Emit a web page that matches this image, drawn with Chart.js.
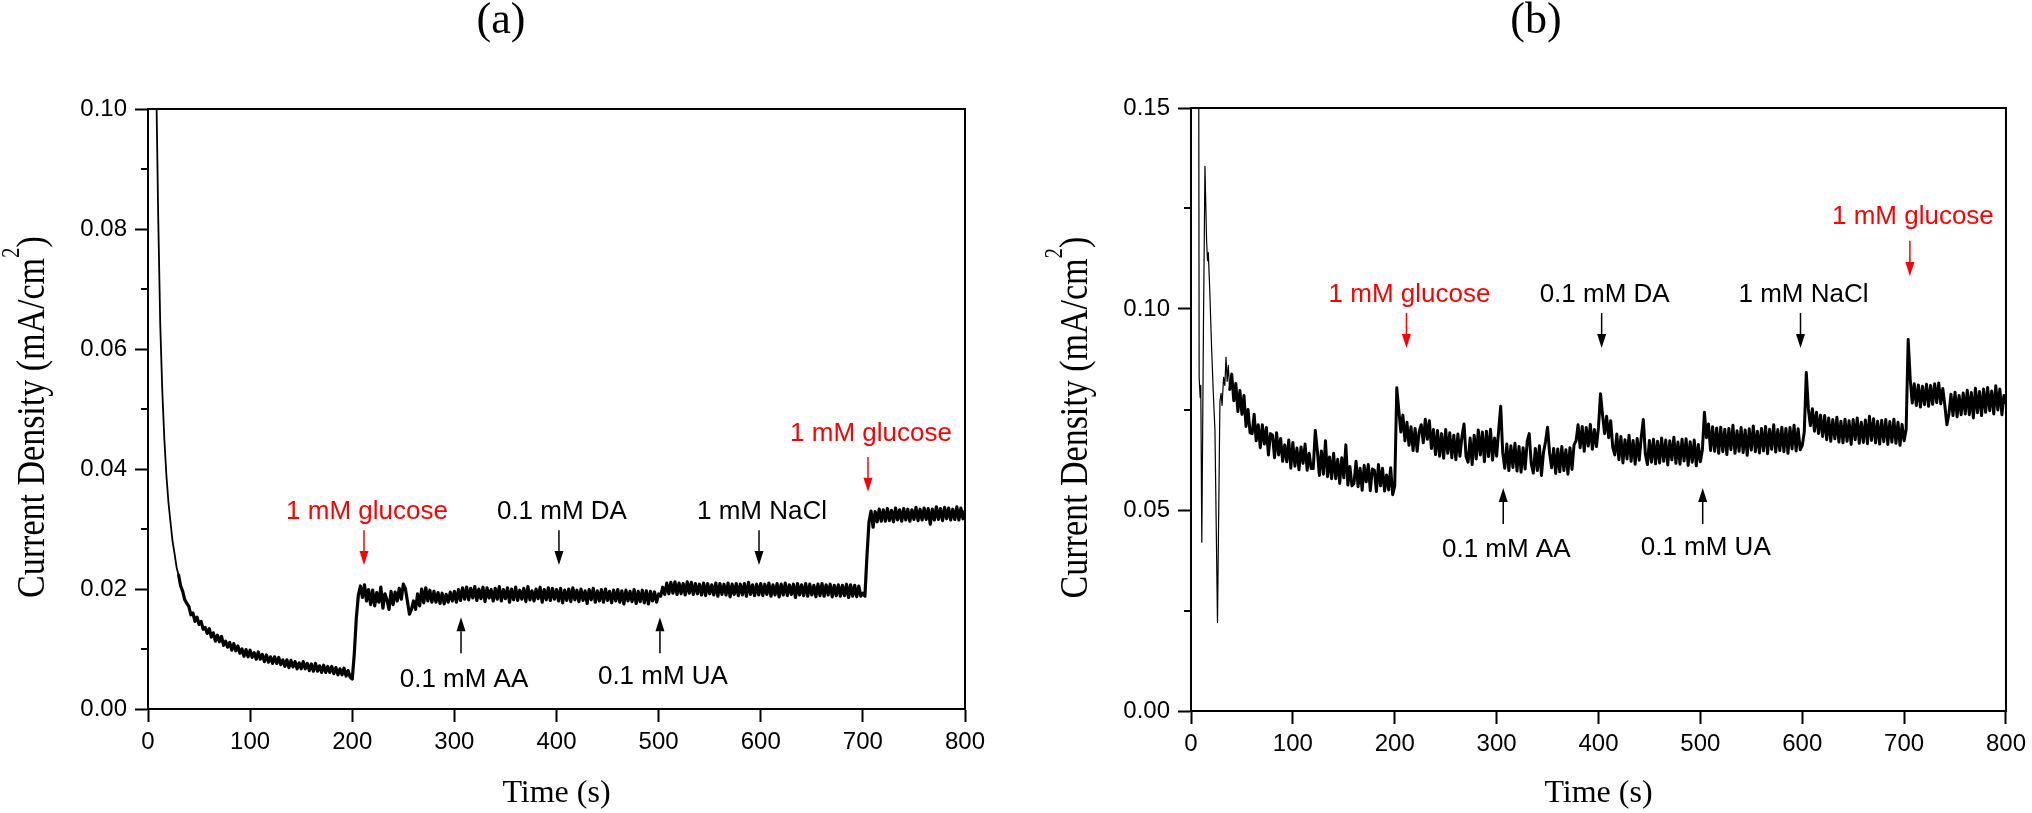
<!DOCTYPE html>
<html>
<head>
<meta charset="utf-8">
<title>Amperometric response</title>
<script src="https://cdn.jsdelivr.net/npm/chart.js@4.4.0/dist/chart.umd.min.js"></script>
<style>
  html, body { margin: 0; padding: 0; background: #fff; }
  #figure { position: relative; width: 2032px; height: 813px; overflow: hidden; }
  .panel { position: absolute; top: 0; width: 1016px; height: 813px; }
</style>
</head>
<body>
<div id="figure">
  <div class="panel" style="left:0"><canvas id="panelA" width="1016" height="813"></canvas></div>
  <div class="panel" style="left:1016px"><canvas id="panelB" width="1016" height="813"></canvas></div>
</div>
<script>
const sampleStep = 2;

// panel (a): t = 0 .. 800 s
const currentA = [
  0.50, 0.30, 0.20, 0.145, 0.105, 0.082, 0.064, 0.053, 0.045, 0.039,
  0.0345, 0.0312, 0.0280, 0.0259, 0.0236, 0.0223, 0.0205, 0.0196, 0.0182, 0.0176,
  0.0171, 0.0157, 0.0160, 0.0146, 0.0153, 0.0141, 0.0146, 0.0133, 0.0136, 0.0126,
  0.0134, 0.0120, 0.0127, 0.0113, 0.0123, 0.0112, 0.0121, 0.0106, 0.0113, 0.0103,
  0.0111, 0.0098, 0.0109, 0.0097, 0.0105, 0.0093, 0.0100, 0.0088, 0.0099, 0.0087,
  0.0098, 0.0086, 0.0094, 0.0083, 0.0095, 0.0083, 0.0091, 0.0079, 0.0090, 0.0078,
  0.0087, 0.0076, 0.0087, 0.0076, 0.0086, 0.0074, 0.0082, 0.0071, 0.0082, 0.0069,
  0.0081, 0.0070, 0.0079, 0.0067, 0.0077, 0.0067, 0.0079, 0.0067, 0.0076, 0.0064,
  0.0075, 0.0063, 0.0076, 0.0063, 0.0072, 0.0061, 0.0073, 0.0061, 0.0071, 0.0061,
  0.0071, 0.0059, 0.0069, 0.0057, 0.0067, 0.0057, 0.0068, 0.0055, 0.0064, 0.0053,
  0.0050, 0.0092, 0.0152, 0.0190, 0.0205, 0.0186, 0.0207, 0.0180, 0.0199, 0.0174,
  0.0198, 0.0172, 0.0194, 0.0178, 0.0203, 0.0168, 0.0192, 0.0182, 0.0166, 0.0196,
  0.0174, 0.0195, 0.0180, 0.0201, 0.0183, 0.0208, 0.0201, 0.0180, 0.0158, 0.0166,
  0.0180, 0.0166, 0.0192, 0.0172, 0.0200, 0.0177, 0.0202, 0.0180, 0.0198, 0.0178,
  0.0196, 0.0178, 0.0194, 0.0176, 0.0193, 0.0175, 0.0191, 0.0178, 0.0195, 0.0180,
  0.0196, 0.0178, 0.0199, 0.0181, 0.0202, 0.0183, 0.0203, 0.0182, 0.0201, 0.0185,
  0.0204, 0.0181, 0.0200, 0.0184, 0.0203, 0.0179, 0.0202, 0.0185, 0.0199, 0.0180,
  0.0201, 0.0183, 0.0204, 0.0180, 0.0199, 0.0184, 0.0202, 0.0178, 0.0200, 0.0182,
  0.0203, 0.0181, 0.0198, 0.0183, 0.0201, 0.0179, 0.0204, 0.0182, 0.0197, 0.0180,
  0.0200, 0.0184, 0.0203, 0.0178, 0.0199, 0.0182, 0.0202, 0.0181, 0.0201, 0.0183,
  0.0199, 0.0180, 0.0201, 0.0177, 0.0198, 0.0181, 0.0200, 0.0179, 0.0202, 0.0182,
  0.0198, 0.0179, 0.0200, 0.0181, 0.0197, 0.0176, 0.0199, 0.0182, 0.0201, 0.0178,
  0.0197, 0.0180, 0.0199, 0.0178, 0.0200, 0.0181, 0.0196, 0.0177, 0.0198, 0.0180,
  0.0199, 0.0178, 0.0197, 0.0175, 0.0198, 0.0180, 0.0196, 0.0179, 0.0199, 0.0176,
  0.0196, 0.0179, 0.0198, 0.0177, 0.0197, 0.0175, 0.0196, 0.0180, 0.0195, 0.0178,
  0.0192, 0.0188, 0.0203, 0.0191, 0.0210, 0.0192, 0.0211, 0.0193, 0.0212, 0.0191,
  0.0210, 0.0192, 0.0209, 0.0190, 0.0212, 0.0193, 0.0211, 0.0191, 0.0209, 0.0192,
  0.0208, 0.0190, 0.0210, 0.0189, 0.0209, 0.0192, 0.0207, 0.0190, 0.0210, 0.0188,
  0.0209, 0.0191, 0.0208, 0.0190, 0.0210, 0.0187, 0.0208, 0.0191, 0.0209, 0.0189,
  0.0208, 0.0190, 0.0209, 0.0188, 0.0211, 0.0191, 0.0207, 0.0189, 0.0208, 0.0190,
  0.0209, 0.0189, 0.0208, 0.0191, 0.0210, 0.0188, 0.0207, 0.0190, 0.0209, 0.0187,
  0.0208, 0.0190, 0.0210, 0.0189, 0.0207, 0.0191, 0.0208, 0.0186, 0.0209, 0.0190,
  0.0207, 0.0189, 0.0209, 0.0188, 0.0208, 0.0190, 0.0206, 0.0187, 0.0208, 0.0189,
  0.0209, 0.0188, 0.0207, 0.0190, 0.0208, 0.0187, 0.0206, 0.0189, 0.0207, 0.0188,
  0.0206, 0.0189, 0.0208, 0.0186, 0.0207, 0.0188, 0.0206, 0.0187, 0.0205, 0.0188,
  0.0193, 0.0188, 0.0255, 0.0312, 0.0330, 0.0303, 0.0329, 0.0312, 0.0333, 0.0313,
  0.0332, 0.0313, 0.0334, 0.0314, 0.0331, 0.0312, 0.0335, 0.0315, 0.0332, 0.0313,
  0.0334, 0.0315, 0.0333, 0.0313, 0.0332, 0.0316, 0.0336, 0.0314, 0.0333, 0.0315,
  0.0335, 0.0316, 0.0334, 0.0308, 0.0333, 0.0315, 0.0337, 0.0316, 0.0334, 0.0314,
  0.0336, 0.0317, 0.0335, 0.0315, 0.0333, 0.0316, 0.0337, 0.0315, 0.0335, 0.0317,
  0.0330
];

// panel (b): fast start-up transient read at irregular times, then 2 s samples from 40 s
const earlyTimeB = [0, 4, 7.6, 8.0, 9.0, 9.6, 10.6, 12.2, 13.7, 15.3, 16.2, 17.0, 18.5,
  20.0, 21.9, 23.5, 26.0, 28.4, 29.5, 30.5, 32.0, 33.2, 34.4, 35.5, 36.6, 38.0];
const earlyCurrentB = [0.30, 0.25, 0.16, 0.083, 0.078, 0.081, 0.042, 0.095, 0.1355, 0.117, 0.112, 0.114, 0.104,
  0.092, 0.079, 0.070, 0.022, 0.077, 0.079, 0.076, 0.083, 0.081, 0.088, 0.082, 0.086, 0.080];
const traceStartB = 40;
const currentB = [
  0.0838, 0.0772, 0.0815, 0.0745, 0.0797, 0.0738, 0.0785, 0.0708, 0.0750, 0.0692,
  0.0690, 0.0738, 0.0672, 0.0712, 0.0655, 0.0712, 0.0664, 0.0705, 0.0637, 0.0690,
  0.0686, 0.0630, 0.0692, 0.0637, 0.0678, 0.0621, 0.0662, 0.0620, 0.0674, 0.0604,
  0.0668, 0.0609, 0.0654, 0.0600, 0.0657, 0.0616, 0.0664, 0.0599, 0.0641, 0.0603,
  0.0603, 0.0698, 0.0648, 0.0586, 0.0647, 0.0589, 0.0672, 0.0583, 0.0632, 0.0578,
  0.0641, 0.0578, 0.0626, 0.0566, 0.0630, 0.0580, 0.0662, 0.0562, 0.0608, 0.0560,
  0.0566, 0.0621, 0.0558, 0.0604, 0.0549, 0.0611, 0.0570, 0.0613, 0.0548, 0.0602,
  0.0599, 0.0546, 0.0613, 0.0560, 0.0604, 0.0547, 0.0587, 0.0550, 0.0605, 0.0538,
  0.0560, 0.0804, 0.0748, 0.0694, 0.0736, 0.0672, 0.0718, 0.0661, 0.0707, 0.0648,
  0.0703, 0.0646, 0.0695, 0.0712, 0.0667, 0.0726, 0.0676, 0.0722, 0.0653, 0.0700,
  0.0638, 0.0698, 0.0634, 0.0690, 0.0629, 0.0700, 0.0641, 0.0692, 0.0630, 0.0686,
  0.0625, 0.0689, 0.0634, 0.0683, 0.0714, 0.0633, 0.0619, 0.0679, 0.0613, 0.0686,
  0.0627, 0.0699, 0.0637, 0.0694, 0.0620, 0.0696, 0.0633, 0.0701, 0.0624, 0.0679,
  0.0634, 0.0698, 0.0758, 0.0642, 0.0604, 0.0664, 0.0598, 0.0660, 0.0606, 0.0666,
  0.0597, 0.0658, 0.0594, 0.0655, 0.0602, 0.0670, 0.0690, 0.0615, 0.0592, 0.0653,
  0.0598, 0.0660, 0.0586, 0.0643, 0.0670, 0.0706, 0.0642, 0.0605, 0.0653, 0.0591,
  0.0652, 0.0595, 0.0658, 0.0598, 0.0650, 0.0589, 0.0655, 0.0601, 0.0662, 0.0672,
  0.0712, 0.0655, 0.0708, 0.0646, 0.0705, 0.0659, 0.0713, 0.0651, 0.0700, 0.0658,
  0.0706, 0.0789, 0.0736, 0.0690, 0.0733, 0.0680, 0.0722, 0.0656, 0.0637, 0.0689,
  0.0625, 0.0683, 0.0617, 0.0675, 0.0627, 0.0686, 0.0621, 0.0673, 0.0614, 0.0678,
  0.0624, 0.0681, 0.0725, 0.0640, 0.0613, 0.0673, 0.0619, 0.0676, 0.0615, 0.0671,
  0.0617, 0.0679, 0.0621, 0.0674, 0.0612, 0.0672, 0.0625, 0.0681, 0.0616, 0.0669,
  0.0614, 0.0676, 0.0622, 0.0677, 0.0611, 0.0670, 0.0619, 0.0674, 0.0610, 0.0663,
  0.0620, 0.0650, 0.0743, 0.0680, 0.0714, 0.0648, 0.0707, 0.0646, 0.0704, 0.0641,
  0.0706, 0.0645, 0.0701, 0.0638, 0.0703, 0.0650, 0.0711, 0.0641, 0.0697, 0.0646,
  0.0705, 0.0643, 0.0699, 0.0636, 0.0702, 0.0649, 0.0709, 0.0645, 0.0696, 0.0642,
  0.0703, 0.0647, 0.0708, 0.0640, 0.0701, 0.0651, 0.0712, 0.0644, 0.0700, 0.0648,
  0.0706, 0.0645, 0.0703, 0.0641, 0.0705, 0.0652, 0.0711, 0.0647, 0.0702, 0.0650,
  0.0660, 0.0694, 0.0842, 0.0752, 0.0710, 0.0752, 0.0696, 0.0743, 0.0690, 0.0736,
  0.0683, 0.0735, 0.0675, 0.0729, 0.0671, 0.0725, 0.0677, 0.0731, 0.0669, 0.0721,
  0.0667, 0.0726, 0.0671, 0.0722, 0.0663, 0.0725, 0.0675, 0.0729, 0.0666, 0.0718,
  0.0668, 0.0724, 0.0665, 0.0733, 0.0673, 0.0727, 0.0667, 0.0721, 0.0664, 0.0723,
  0.0670, 0.0725, 0.0663, 0.0720, 0.0669, 0.0726, 0.0666, 0.0718, 0.0661, 0.0713,
  0.0672, 0.0700, 0.0924, 0.0826, 0.0766, 0.0814, 0.0760, 0.0811, 0.0756, 0.0808,
  0.0762, 0.0813, 0.0758, 0.0810, 0.0763, 0.0814, 0.0767, 0.0816, 0.0764, 0.0802,
  0.0760, 0.0712, 0.0739, 0.0788, 0.0735, 0.0793, 0.0732, 0.0785, 0.0737, 0.0791,
  0.0739, 0.0798, 0.0737, 0.0792, 0.0729, 0.0803, 0.0742, 0.0795, 0.0735, 0.0801,
  0.0743, 0.0805, 0.0747, 0.0796, 0.0739, 0.0809, 0.0749, 0.0801, 0.0737, 0.0785,
  0.0765
];

const timeTicks = [0, 100, 200, 300, 400, 500, 600, 700, 800];
const yTicksA = [0, 0.02, 0.04, 0.06, 0.08, 0.10];
const yMinorA = [0.01, 0.03, 0.05, 0.07, 0.09];
const yTicksB = [0, 0.05, 0.10, 0.15];
const yMinorB = [0.025, 0.075, 0.125];

// injections: arrow time, label baseline, arrow tail and tip (mA/cm2)
const notesA = [
  { text: "1 mM glucose", time: 211.5, red: true, textAt: 0.0317, tailAt: 0.0298, tipAt: 0.0240 },
  { text: "0.1 mM AA", time: 306.5, red: false, textAt: 0.0037, tailAt: 0.0093, tipAt: 0.0153 },
  { text: "0.1 mM DA", time: 402.4, red: false, textAt: 0.0317, tailAt: 0.0298, tipAt: 0.0240 },
  { text: "0.1 mM UA", time: 501.3, red: false, textAt: 0.0042, tailAt: 0.0093, tipAt: 0.0153 },
  { text: "1 mM NaCl", time: 598.3, red: false, textAt: 0.0317, tailAt: 0.0298, tipAt: 0.0240 },
  { text: "1 mM glucose", time: 705, red: true, textAt: 0.0446, tailAt: 0.0420, tipAt: 0.0362 },
];
const notesB = [
  { text: "1 mM glucose", time: 211.5, red: true, textAt: 0.1018, tailAt: 0.0990, tipAt: 0.0903 },
  { text: "0.1 mM AA", time: 306.5, red: false, textAt: 0.0384, tailAt: 0.0465, tipAt: 0.0555 },
  { text: "0.1 mM DA", time: 403.1, red: false, textAt: 0.1018, tailAt: 0.0990, tipAt: 0.0903 },
  { text: "0.1 mM UA", time: 502.3, red: false, textAt: 0.0387, tailAt: 0.0465, tipAt: 0.0555 },
  { text: "1 mM NaCl", time: 598.3, red: false, textAt: 0.1018, tailAt: 0.0990, tipAt: 0.0903 },
  { text: "1 mM glucose", time: 705.7, red: true, textAt: 0.1211, tailAt: 0.1170, tipAt: 0.1082 },
];

const SANS = '"Liberation Sans", Arial, sans-serif';
const SERIF = '"Liberation Serif", "Times New Roman", serif';

function regularPoints(values, start) {
  return values.map((v, i) => ({ x: start + i * sampleStep, y: v }));
}

function drawArrow(ctx, x, yFrom, yTo, color) {
  const dir = yTo > yFrom ? 1 : -1;
  const head = 14, half = 4.5;
  ctx.strokeStyle = color;
  ctx.fillStyle = color;
  ctx.lineWidth = 1.5;
  ctx.beginPath();
  ctx.moveTo(x, yFrom);
  ctx.lineTo(x, yTo - dir * head);
  ctx.stroke();
  ctx.beginPath();
  ctx.moveTo(x, yTo);
  ctx.lineTo(x - half, yTo - dir * head);
  ctx.lineTo(x + half, yTo - dir * head);
  ctx.closePath();
  ctx.fill();
}

// frame, minor ticks, y title, panel letter and injection arrows
const figureDecor = {
  id: "figureDecor",
  afterDraw(chart, args, opts) {
    const { ctx, chartArea: area } = chart;
    const xs = chart.scales.x, ys = chart.scales.y;
    ctx.save();

    ctx.strokeStyle = "#000";
    ctx.lineWidth = 2;
    ctx.beginPath();
    ctx.moveTo(area.left - 1, area.top);
    ctx.lineTo(area.right, area.top);
    ctx.lineTo(area.right, area.bottom + 1);
    ctx.stroke();

    ctx.beginPath();
    opts.minorTicks.forEach((v) => {
      const py = Math.round(ys.getPixelForValue(v));
      ctx.moveTo(area.left - 7, py);
      ctx.lineTo(area.left, py);
    });
    ctx.stroke();

    // rotated y title with superscript
    ctx.save();
    ctx.translate(area.left - 104, (area.top + area.bottom) / 2 + 8);
    ctx.rotate(-Math.PI / 2);
    ctx.scale(1, 1.15);
    ctx.fillStyle = "#000";
    ctx.textBaseline = "alphabetic";
    ctx.textAlign = "left";
    const main = "Current Density (mA/cm", sup = "2", close = ")";
    ctx.font = "34px " + SERIF;
    const wMain = ctx.measureText(main).width;
    const wClose = ctx.measureText(close).width;
    ctx.font = "21px " + SERIF;
    const wSup = ctx.measureText(sup).width;
    let cx = -(wMain + wSup + wClose) / 2;
    ctx.font = "34px " + SERIF;
    ctx.fillText(main, cx, 0);
    cx += wMain;
    ctx.font = "21px " + SERIF;
    ctx.fillText(sup, cx, -22);
    cx += wSup;
    ctx.font = "34px " + SERIF;
    ctx.fillText(close, cx, 0);
    ctx.restore();

    ctx.fillStyle = "#000";
    ctx.font = "44px " + SERIF;
    ctx.textAlign = "center";
    ctx.textBaseline = "alphabetic";
    ctx.fillText(opts.panel, opts.panelX, 33);

    ctx.font = "26px " + SANS;
    opts.notes.forEach((n) => {
      const px = xs.getPixelForValue(n.time);
      const color = n.red ? "#ff0000" : "#000000";
      ctx.fillStyle = color;
      ctx.fillText(n.text, px + 3, ys.getPixelForValue(n.textAt));
      drawArrow(ctx, px, ys.getPixelForValue(n.tailAt), ys.getPixelForValue(n.tipAt), color);
    });

    ctx.restore();
  },
};

function makePanel(canvasId, cfg) {
  return new Chart(document.getElementById(canvasId).getContext("2d"), {
    type: "line",
    data: {
      datasets: [
        {
          data: cfg.points,
          borderColor: "#000",
          borderWidth: cfg.noisyWidth,
          borderJoinStyle: "round",
          borderCapStyle: "round",
          pointRadius: 0,
          tension: 0,
          clip: 0,
          // the steep start-up transient is drawn thin, the noisy record thick
          segment: {
            borderWidth: (c) => (c.p1.parsed.x <= cfg.thinUntil ? cfg.thinWidth : cfg.noisyWidth),
          },
        },
      ],
    },
    options: {
      responsive: false,
      animation: false,
      events: [],
      parsing: false,
      layout: { padding: { left: 0, right: cfg.padRight, top: cfg.padTop, bottom: 0 } },
      plugins: {
        legend: { display: false },
        tooltip: { enabled: false },
        figureDecor: { panel: cfg.panel, panelX: cfg.panelX, minorTicks: cfg.minorTicks, notes: cfg.notes },
      },
      scales: {
        x: {
          type: "linear",
          min: 0,
          max: 800,
          afterBuildTicks: (s) => { s.ticks = timeTicks.map((v) => ({ value: v })); },
          afterFit: (s) => { s.height = cfg.xHeight; },
          ticks: { color: "#000", font: { family: SANS, size: 24 }, padding: 6, maxRotation: 0, autoSkip: false },
          grid: { drawOnChartArea: false, drawTicks: true, tickLength: 13, tickWidth: 2, color: "#000" },
          border: { display: true, color: "#000", width: 2 },
          title: { display: true, text: "Time (s)", color: "#000", font: { family: SERIF, size: 32 }, padding: { top: 0, bottom: 0 } },
        },
        y: {
          type: "linear",
          min: 0,
          max: cfg.yMax,
          afterBuildTicks: (s) => { s.ticks = cfg.yTicks.map((v) => ({ value: v })); },
          afterFit: (s) => { s.width = cfg.yWidth; },
          ticks: { color: "#000", font: { family: SANS, size: 24 }, padding: 8, callback: (v) => v.toFixed(2) },
          grid: { drawOnChartArea: false, drawTicks: true, tickLength: 13, tickWidth: 2, color: "#000" },
          border: { display: true, color: "#000", width: 2 },
        },
      },
    },
    plugins: [figureDecor],
  });
}

const pointsA = regularPoints(currentA, 0);
const pointsB = earlyTimeB.map((t, i) => ({ x: t, y: earlyCurrentB[i] })).concat(regularPoints(currentB, traceStartB));

makePanel("panelA", {
  points: pointsA, noisyWidth: 3.2, thinWidth: 1.8, thinUntil: 30,
  yMax: 0.10, yTicks: yTicksA, minorTicks: yMinorA, notes: notesA,
  panel: "(a)", panelX: 501, padRight: 51, padTop: 109, xHeight: 104, yWidth: 148,
});
makePanel("panelB", {
  points: pointsB, noisyWidth: 3.0, thinWidth: 1.2, thinUntil: 38,
  yMax: 0.15, yTicks: yTicksB, minorTicks: yMinorB, notes: notesB,
  panel: "(b)", panelX: 520, padRight: 24, padTop: 108, xHeight: 102, yWidth: 175,
});
</script>
</body>
</html>
